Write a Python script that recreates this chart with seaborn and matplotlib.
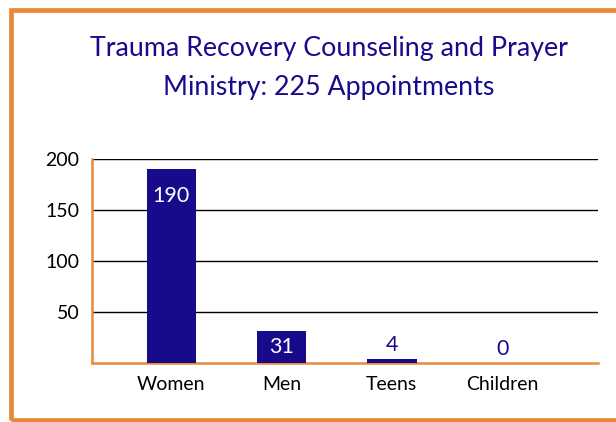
import matplotlib.pyplot as plt
import pandas as pd
import seaborn as sns
from matplotlib.patches import Rectangle

# data
groups = ["Women", "Men", "Teens", "Children"]
appointments = [190, 31, 4, 0]
y_ticks = [50, 100, 150, 200]
title_lines = ["Trauma Recovery Counseling and Prayer", "Ministry: 225 Appointments"]

navy = "#170B8C"
orange = "#E8893A"

sns.set_style("white")
plt.rcParams["font.family"] = ["Lato", "DejaVu Sans"]

df = pd.DataFrame({"group": groups, "count": appointments})

fig = plt.figure(figsize=(6.16, 4.22), dpi=100)
ax = fig.add_axes([0.1494, 0.1398, 0.8214, 0.4834])

sns.barplot(data=df, x="group", y="count", color=navy, saturation=1,
            width=0.45, linewidth=0, ax=ax, zorder=3)

ax.set_ylim(0, 200)
ax.set_xlim(-0.72, 3.87)
ax.set_yticks(y_ticks)
ax.yaxis.grid(True, color="black", linewidth=1.0, zorder=1)
ax.set_axisbelow(True)
ax.set_xlabel("")
ax.set_ylabel("")
ax.tick_params(axis="both", length=0, labelsize=14, colors="black")
ax.tick_params(axis="x", pad=9)
ax.tick_params(axis="y", pad=9)

for side in ["top", "right"]:
    ax.spines[side].set_visible(False)
for side in ["left", "bottom"]:
    ax.spines[side].set_color(orange)
    ax.spines[side].set_linewidth(1.8)

# value labels: inside (white) for tall bars, above (navy) for short ones
for i, v in enumerate(appointments):
    if v > 20:
        if v > 50:
            ax.annotate(str(v), (i, v), xytext=(0, -19), textcoords="offset points",
                        ha="center", va="center", color="white", fontsize=15.5, zorder=4)
        else:
            ax.text(i, v / 2, str(v), ha="center", va="center",
                    color="white", fontsize=15.5, zorder=4)
    else:
        ax.annotate(str(v), (i, v), xytext=(0, 10), textcoords="offset points",
                    ha="center", va="center", color=navy, fontsize=15.5, zorder=4)

fig.text(0.534, 0.885, title_lines[0], ha="center", va="center", color=navy, fontsize=19.3)
fig.text(0.534, 0.793, title_lines[1], ha="center", va="center", color=navy, fontsize=19.3)

# orange frame around the whole chart (right side runs off the image)
fig.patches.append(Rectangle((0.018, 0.005), 1.1, 0.972, transform=fig.transFigure,
                             fill=False, edgecolor=orange, linewidth=3.4))

fig.savefig("out.png", dpi=100)
